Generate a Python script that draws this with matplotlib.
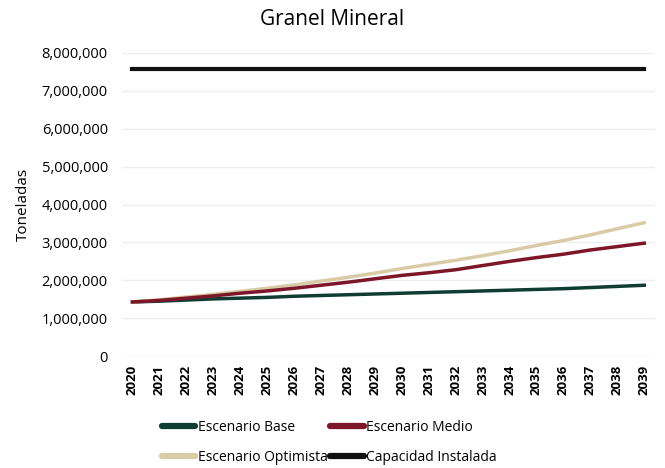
import matplotlib.pyplot as plt
from matplotlib.lines import Line2D
from matplotlib.ticker import FuncFormatter

plt.rcParams['font.family'] = ['Open Sans', 'DejaVu Sans']

years = [str(y) for y in range(2020, 2040)]
base = [1.43, 1.45, 1.48, 1.51, 1.53, 1.55, 1.58, 1.60, 1.62, 1.64,
        1.66, 1.68, 1.70, 1.72, 1.74, 1.76, 1.78, 1.81, 1.84, 1.87]
medio = [1.43, 1.47, 1.53, 1.59, 1.66, 1.72, 1.79, 1.87, 1.95, 2.04,
         2.13, 2.20, 2.28, 2.39, 2.50, 2.60, 2.69, 2.80, 2.89, 2.98]
optimista = [1.43, 1.49, 1.56, 1.63, 1.71, 1.79, 1.88, 1.98, 2.08, 2.19,
             2.31, 2.42, 2.53, 2.65, 2.78, 2.92, 3.05, 3.20, 3.36, 3.52]
capacidad = [7.58] * 20

colors = {"base": "#0f3d33", "opt": "#d9cba6", "med": "#7d1628", "cap": "#111111"}

fig = plt.figure(figsize=(6.65, 4.68), dpi=100)
ax = fig.add_axes([0.183, 0.239, 0.802, 0.648])

x = range(len(years))
ax.plot(x, [v * 1e6 for v in base], color=colors["base"], lw=2.5)
ax.plot(x, [v * 1e6 for v in optimista], color=colors["opt"], lw=2.5)
ax.plot(x, [v * 1e6 for v in medio], color=colors["med"], lw=2.5)
ax.plot(x, [v * 1e6 for v in capacidad], color=colors["cap"], lw=3)

ax.set_ylim(0, 8e6)
ax.set_yticks([i * 1e6 for i in range(9)])
ax.yaxis.set_major_formatter(FuncFormatter(lambda v, p: f"{int(v):,}"))
ax.set_xlim(-0.4, len(years) - 0.6)
ax.set_xticks(list(x))
ax.set_xticklabels(years, rotation=90, fontweight="bold", fontsize=9.5)
ax.tick_params(axis="y", labelsize=10.5, length=0, pad=10)
ax.tick_params(axis="x", length=0, pad=6)
ax.grid(axis="y", color="#eeeeee", lw=1)
for s in ax.spines.values():
    s.set_visible(False)
ax.set_ylabel("Toneladas", fontsize=11, labelpad=8)
fig.suptitle("Granel Mineral", fontsize=15, y=0.98)

handles = [Line2D([], [], color=colors["base"], lw=4.5, solid_capstyle="round"),
           Line2D([], [], color=colors["opt"], lw=4.5, solid_capstyle="round"),
           Line2D([], [], color=colors["med"], lw=4.5, solid_capstyle="round"),
           Line2D([], [], color=colors["cap"], lw=4.5, solid_capstyle="round")]
labels = ["Escenario Base", "Escenario Optimista", "Escenario Medio", "Capacidad Instalada"]
fig.legend(handles, labels, ncol=2, frameon=False,
           loc="upper left", bbox_to_anchor=(0.225, 0.13), fontsize=10,
           handlelength=2.4, handletextpad=0.15, columnspacing=0.2, labelspacing=1.1)

fig.savefig("out.png", dpi=100)
